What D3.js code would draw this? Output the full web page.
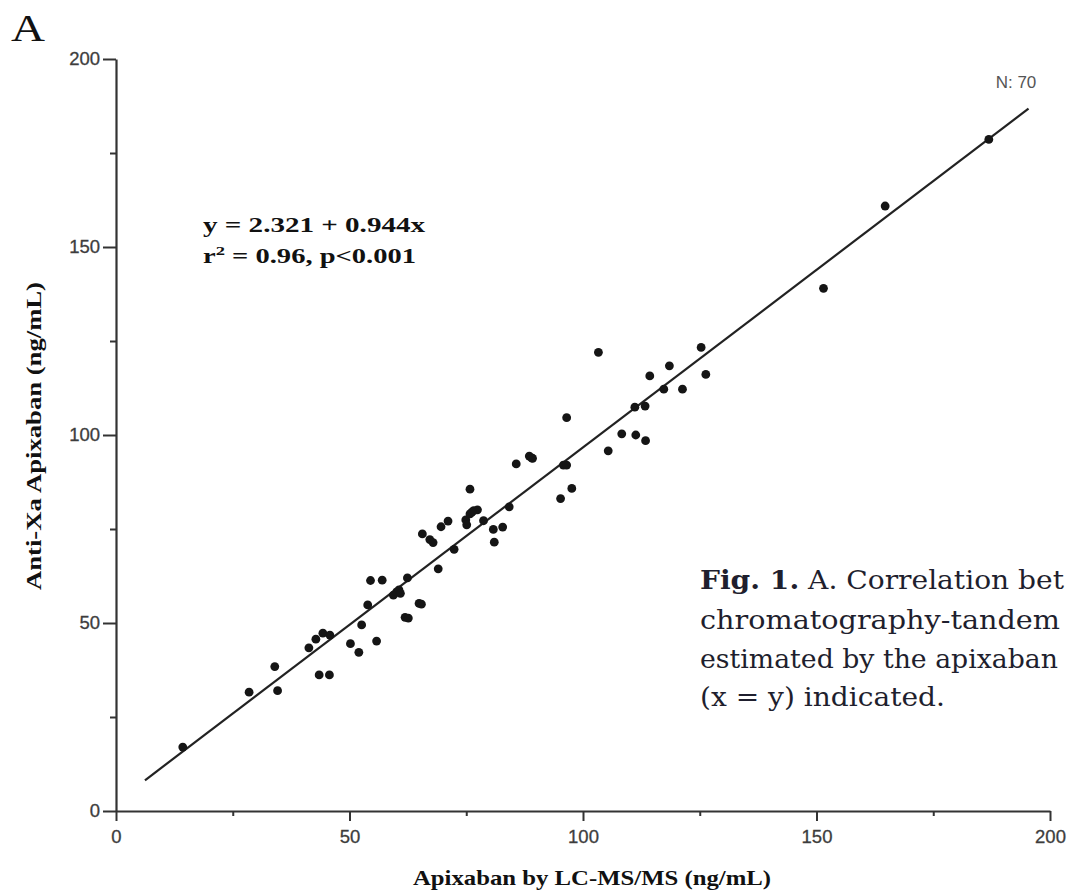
<!DOCTYPE html>
<html>
<head>
<meta charset="utf-8">
<script src="https://cdn.jsdelivr.net/npm/d3@7"></script>
<style>
  html, body { margin: 0; padding: 0; background: #fff; overflow: hidden; }
  svg { display: block; }
</style>
</head>
<body>
<svg id="chart" width="1072" height="891"></svg>
<script>
// ---- data ----
const lcmsValues = [
  14.3, 28.5, 34.0, 34.6, 41.3, 42.8, 44.3, 45.8, 43.5, 45.7,
  50.2, 52.0, 55.8, 52.6, 53.9, 54.5, 57.0, 59.4, 60.1, 60.6,
  62.4, 61.9, 64.9, 65.6, 67.2, 67.9, 69.0, 69.6, 71.1, 72.4,
  75.8, 74.9, 75.1, 75.8, 76.6, 77.4, 78.7, 80.8, 81.0, 82.8,
  84.2, 85.7, 88.5, 89.2, 95.2, 95.8, 96.5, 97.6, 103.3, 96.5,
  105.4, 108.3, 111.3, 113.4, 111.1, 113.3, 114.3, 118.5, 117.3, 121.3,
  125.3, 126.3, 151.5, 164.7, 186.9, 62.6, 65.4, 60.9, 89.0, 76.2
];
const antiXaValues = [
  17.0, 31.6, 38.4, 32.0, 43.4, 45.7, 47.3, 46.8, 36.2, 36.2,
  44.5, 42.2, 45.2, 49.5, 54.8, 61.3, 61.4, 57.4, 58.3, 58.8,
  62.0, 51.5, 55.2, 73.7, 72.2, 71.4, 64.4, 75.6, 77.1, 69.6,
  85.6, 77.4, 76.1, 79.0, 79.9, 80.1, 77.2, 74.9, 71.5, 75.5,
  80.9, 92.3, 94.4, 93.8, 83.1, 92.0, 92.0, 85.8, 122.0, 104.6,
  95.8, 100.3, 100.0, 98.5, 107.4, 107.7, 115.7, 118.4, 112.2, 112.2,
  123.3, 116.1, 139.0, 160.9, 178.6, 51.3, 55.0, 57.9, 93.9, 79.5
];
const majorTicks = [0, 50, 100, 150, 200];
const minorTicks = [25, 75, 125, 175];
const fitIntercept = 2.321;
const fitSlope = 0.944;
const fitRange = [6.2, 195.4];
const equationLines = ["y = 2.321 + 0.944x", "r\u00B2 = 0.96, p<0.001"];
const nLabel = "N: 70";
const xTitle = "Apixaban by LC-MS/MS (ng/mL)";
const yTitle = "Anti-Xa Apixaban (ng/mL)";
const panelLabel = "A";
// caption as visible in the reference (cut by the right edge of the picture)
const captionLines = [
  ["Fig. 1.", " A. Correlation bet"],
  ["", "chromatography-tandem"],
  ["", "estimated by the apixaban"],
  ["", "(x = y) indicated."]
];

// ---- drawing ----
const svg = d3.select("#chart");
const x = d3.scaleLinear().domain([0, 200]).range([116, 1050]);
const y = d3.scaleLinear().domain([0, 200]).range([811, 59]);

const axisColor = "#333";
const tickFont = "'Liberation Sans', Arial, sans-serif";

// minor ticks
svg.append("g").attr("transform", `translate(0,${y(0)})`)
  .call(d3.axisBottom(x).tickValues(minorTicks).tickSize(5).tickFormat("").tickSizeOuter(0))
  .call(g => g.select(".domain").remove());
svg.append("g").attr("transform", `translate(${x(0)},0)`)
  .call(d3.axisLeft(y).tickValues(minorTicks).tickSize(6).tickFormat("").tickSizeOuter(0))
  .call(g => g.select(".domain").remove());

// major axes
const xAxis = svg.append("g").attr("transform", `translate(0,${y(0)})`)
  .call(d3.axisBottom(x).tickValues(majorTicks).tickSize(10).tickPadding(9).tickSizeOuter(0));
const yAxis = svg.append("g").attr("transform", `translate(${x(0)},0)`)
  .call(d3.axisLeft(y).tickValues(majorTicks).tickSize(13).tickPadding(3).tickSizeOuter(0));

svg.selectAll(".tick line").attr("stroke", axisColor).attr("stroke-width", 2);
[xAxis, yAxis].forEach(a => {
  a.select(".domain").attr("stroke", axisColor).attr("stroke-width", 2.2);
  a.selectAll(".tick text")
    .attr("font-family", tickFont).attr("font-size", 18.5).attr("fill", "#3d3d3d")
    .attr("stroke", "#3d3d3d").attr("stroke-width", 0.3);
});

// regression line
svg.append("line")
  .attr("x1", x(fitRange[0])).attr("y1", y(fitIntercept + fitSlope * fitRange[0]))
  .attr("x2", x(fitRange[1])).attr("y2", y(fitIntercept + fitSlope * fitRange[1]))
  .attr("stroke", "#222").attr("stroke-width", 2.2);

// points
svg.append("g").selectAll("circle")
  .data(lcmsValues.map((v, i) => [v, antiXaValues[i]]))
  .join("circle")
  .attr("cx", d => x(d[0])).attr("cy", d => y(d[1]))
  .attr("r", 4.4).attr("fill", "#151515");

// equation annotation
const serifBold = "'Liberation Serif', 'Times New Roman', serif";
svg.append("text").attr("x", 203).attr("y", 232)
  .attr("font-family", serifBold).attr("font-weight", "bold").attr("font-size", 20)
  .attr("fill", "#111").attr("textLength", 222).attr("lengthAdjust", "spacingAndGlyphs")
  .text(equationLines[0]);
const l2 = svg.append("text").attr("x", 203).attr("y", 263)
  .attr("font-family", serifBold).attr("font-weight", "bold").attr("font-size", 20)
  .attr("fill", "#111").attr("textLength", 213).attr("lengthAdjust", "spacingAndGlyphs");
l2.append("tspan").text("r");
l2.append("tspan").attr("font-size", 13).attr("dy", -8).text("2");
l2.append("tspan").attr("dy", 8).text(" = 0.96, p<0.001");

// N label
svg.append("text").attr("x", 1016).attr("y", 88).attr("text-anchor", "middle")
  .attr("font-family", tickFont).attr("font-size", 17).attr("fill", "#555")
  .text(nLabel);

// axis titles
svg.append("text").attr("x", 592).attr("y", 885).attr("text-anchor", "middle")
  .attr("font-family", serifBold).attr("font-weight", "bold").attr("font-size", 22)
  .attr("fill", "#111").attr("textLength", 358).attr("lengthAdjust", "spacingAndGlyphs")
  .text(xTitle);
svg.append("text").attr("transform", `translate(41,436) rotate(-90)`)
  .attr("text-anchor", "middle")
  .attr("font-family", serifBold).attr("font-weight", "bold").attr("font-size", 22)
  .attr("fill", "#111").attr("textLength", 308).attr("lengthAdjust", "spacingAndGlyphs")
  .text(yTitle);

// panel label
svg.append("text").attr("x", 11).attr("y", 41)
  .attr("font-family", serifBold).attr("font-size", 38).attr("fill", "#111")
  .attr("textLength", 34).attr("lengthAdjust", "spacingAndGlyphs")
  .text(panelLabel);

// caption
const capFont = "'DejaVu Serif', serif";
const capBase = [589, 629, 668, 706];
const capWidths = [364, 360, 358, 245];
captionLines.forEach((ln, i) => {
  const t = svg.append("text").attr("x", 700).attr("y", capBase[i])
    .attr("font-family", capFont).attr("font-size", 26.5).attr("fill", "#1f1f2e")
    .attr("textLength", capWidths[i]).attr("lengthAdjust", "spacingAndGlyphs");
  if (ln[0]) t.append("tspan").attr("font-weight", "bold").text(ln[0]);
  t.append("tspan").text(ln[1]);
});
</script>
</body>
</html>
